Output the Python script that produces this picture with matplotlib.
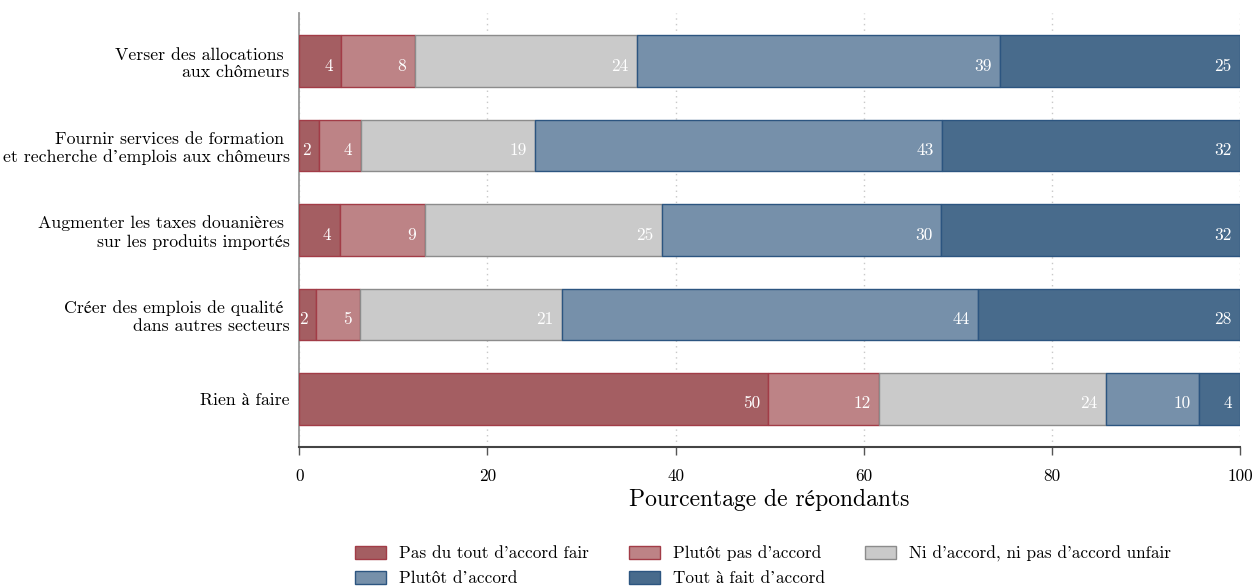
import matplotlib
matplotlib.use("Agg")
import matplotlib.pyplot as plt
import numpy as np

plt.rcParams['font.family'] = ['cmr10', 'STIXGeneral', 'DejaVu Serif']
plt.rcParams['axes.formatter.use_mathtext'] = True
plt.rcParams['mathtext.fontset'] = 'cm'

categories = [
    "Verser des allocations \naux chômeurs",
    "Fournir services de formation \net recherche d’emplois aux chômeurs",
    "Augmenter les taxes douanières \nsur les produits importés",
    "Créer des emplois de qualité \ndans autres secteurs",
    "Rien à faire",
]
series_names = [
    "Pas du tout d'accord fair",
    "Plutôt pas d'accord",
    "Ni d'accord, ni pas d'accord unfair",
    "Plutôt d’accord",
    "Tout à fait d’accord",
]
pas_du_tout = [4.45, 2.12, 4.29, 1.80, 49.87]
plutot_pas = [7.83, 4.43, 9.02, 4.68, 11.78]
ni_ni = [23.60, 18.55, 25.23, 21.44, 24.08]
plutot_accord = [38.64, 43.23, 29.69, 44.23, 9.89]
tout_a_fait = [25.48, 31.67, 31.77, 27.85, 4.38]
series_values = [pas_du_tout, plutot_pas, ni_ni, plutot_accord, tout_a_fait]
xticks = [0, 20, 40, 60, 80, 100]

fills = ["#a45e62", "#bd8386", "#cacaca", "#7690aa", "#486b8c"]
edges = ["#a23c47", "#a23c47", "#8c8c8c", "#2c5580", "#2c5580"]

fig = plt.figure(figsize=(12.56, 5.86), dpi=100)
ax = fig.add_axes([0.2383, 0.2377, 0.9873 - 0.2383, 0.9778 - 0.2377])

ypos = np.arange(len(categories))[::-1]
left = np.zeros(len(categories))
handles = []
for name, vals, fc, ec in zip(series_names, series_values, fills, edges):
    vals = np.array(vals)
    bars = ax.barh(ypos, vals, left=left, height=0.61, color=fc,
                   edgecolor=ec, linewidth=1.0, label=name, zorder=3)
    handles.append(bars)
    for y, l, v in zip(ypos, left, vals):
        ax.annotate(f"{v:.0f}", xy=(l + v, y), xytext=(-6.0, -3.5),
                    textcoords="offset points", ha="right", va="center",
                    color="white", fontsize=12.5, zorder=4)
    left = left + vals

ax.set_xlim(0, 100)
ax.set_ylim(-0.565, 4.568)
ax.set_yticks(ypos)
ax.set_yticklabels(categories, fontsize=12.8)
ax.tick_params(axis='y', length=0, pad=7)
ax.set_xticks(xticks)
ax.set_xticklabels([str(t) for t in xticks], fontsize=12.3)
ax.tick_params(axis='x', length=6, width=1, color="#555555", pad=10)
ax.xaxis.grid(True, linestyle=(0, (1, 3)), color="#c8c8c8", linewidth=1, zorder=0)
ax.set_axisbelow(True)
ax.set_xlabel("Pourcentage de répondants", fontsize=17, labelpad=3)

for s in ["top", "right"]:
    ax.spines[s].set_visible(False)
ax.spines["left"].set_color("#999999")
ax.spines["left"].set_linewidth(1.3)
ax.spines["bottom"].set_color("#444444")
ax.spines["bottom"].set_linewidth(1.5)

order = [0, 3, 1, 4, 2]
fig.legend([handles[i] for i in order], [series_names[i] for i in order],
           loc="upper center", bbox_to_anchor=(0.6075, 0.090), ncol=3,
           frameon=False, fontsize=12.4, handlelength=1.8, handleheight=0.8,
           handletextpad=0.75, columnspacing=2.35, labelspacing=0.55,
           borderpad=0.2)

fig.savefig("out.png", dpi=100)
